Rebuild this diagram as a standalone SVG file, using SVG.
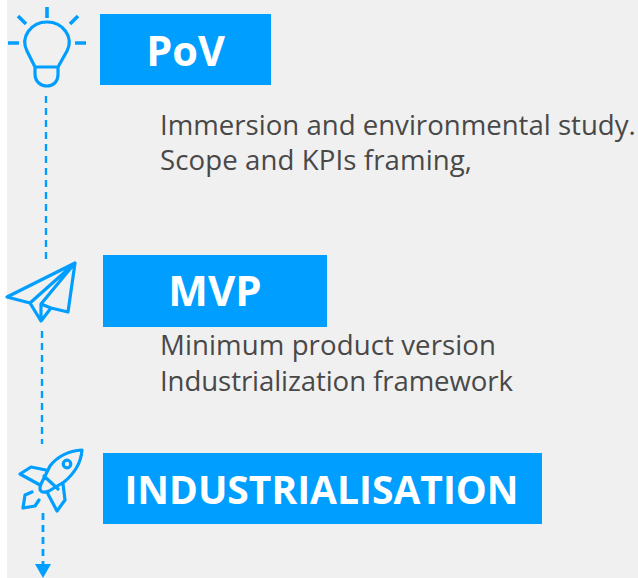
<svg xmlns="http://www.w3.org/2000/svg" width="638" height="578" viewBox="0 0 638 578">
<style>
.ic{fill:none;stroke:#009FFF;stroke-width:3.2;stroke-linejoin:round;stroke-linecap:round}
.ray{fill:none;stroke:#009FFF;stroke-width:3.6}
.dash{fill:none;stroke:#009FFF;stroke-width:2.4;stroke-dasharray:7 5}
.box{fill:#009FFF}
.ttl{font-family:"Open Sans",sans-serif;font-weight:700;fill:#fff;text-anchor:middle}
.txt{font-family:"Open Sans",sans-serif;font-size:27.6px;fill:#484848}
</style>
<rect width="638" height="578" fill="#fff"/>
<rect x="7" y="0" width="631" height="578" fill="#F0F0F0"/>
<g id="connectors">
<path class="dash" d="M46 96V262"/>
<path class="dash" d="M42 331V444"/>
<path class="dash" style="stroke-width:2.8" d="M43 513V566"/>
<path d="M35 564H51L43 578Z" fill="#009FFF"/>
</g>
<g id="icon-bulb">
<path class="ic" d="M35 67L27 51C20 37 31 22 47 22C63 22 74 37 67 51L58 67M35 67H58V74C58 82 53 86 47 86C41 86 35 82 35 74Z"/>
<path class="ray" d="M47 7V18M18 16L26 24M78 16L70 24M8 43H19M75 43H86"/>
</g>
<g id="node-pov">
<rect class="box" x="100" y="14" width="171" height="71"/>
<text class="ttl" x="185.500" y="66" font-size="41.500">PoV</text>
<text class="txt" x="160" y="135">Immersion and environmental study.</text>
<text class="txt" x="160" y="170" textLength="312">Scope and KPIs framing,</text>
</g>
<g id="icon-plane">
<path class="ic" d="M75 263L7 297L30 303L41 321L51 308L68 312ZM75 263L30 303M75 263L41 304V321M41 304L51 308"/>
</g>
<g id="node-mvp">
<rect class="box" x="103" y="255" width="224" height="72"/>
<text class="ttl" x="215" y="306" font-size="42">MVP</text>
<text class="txt" x="160" y="355" textLength="336">Minimum product version</text>
<text class="txt" x="160" y="391" textLength="353">Industrialization framework</text>
</g>
<g id="icon-rocket">
<path class="ic" d="M82 450C68 451 57 457 50 466L41 484C38 491 42 494 49 491L64 482C75 473 81 463 82 450ZM44 476L58 489M46 470L31 467L20 474L40 485M63 484L65 500L57 511L48 494M32 492L25 495L23 508L35 506L39 500"/>
<circle class="ic" cx="67" cy="464" r="3.800"/>
</g>
<g id="node-industrialisation">
<rect class="box" x="103" y="453" width="439" height="71"/>
<text class="ttl" x="321.500" y="504" font-size="39">INDUSTRIALISATION</text>
</g>
</svg>
